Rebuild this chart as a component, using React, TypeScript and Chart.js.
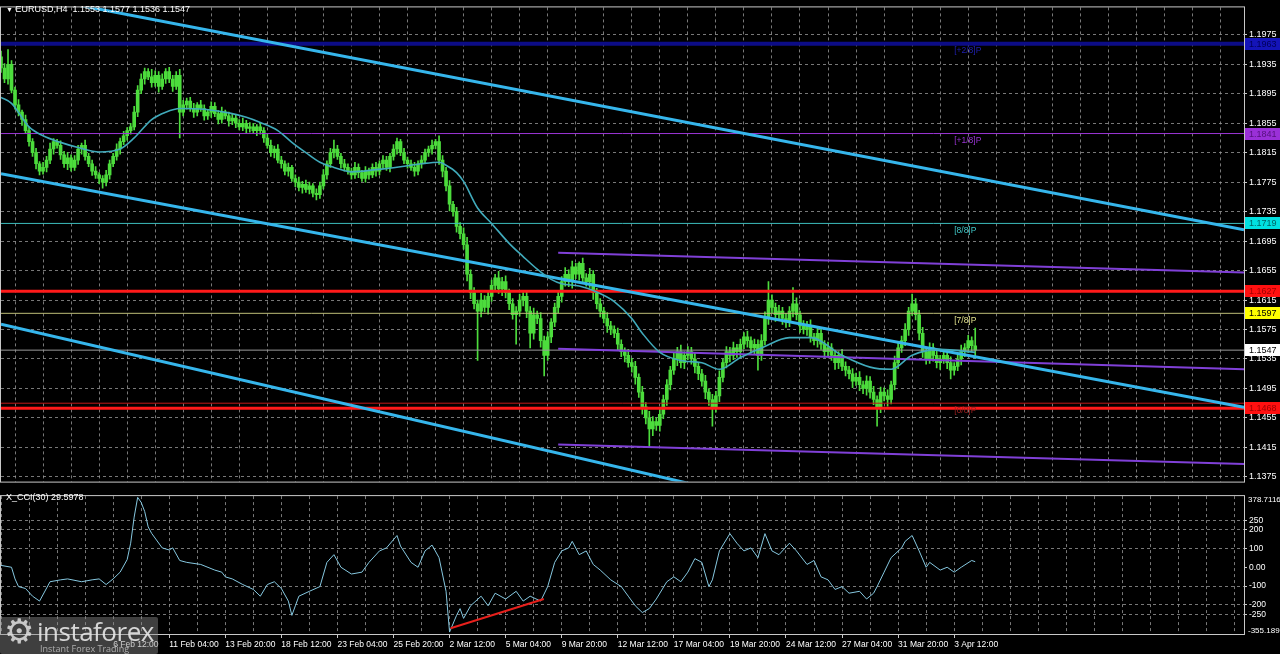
import { useEffect, useRef } from 'react';
import { Chart, registerables } from 'chart.js';
Chart.register(...registerables);

// ---------- DATA ----------
// prices stored as pips above 1.1000 (e.g. 930 -> 1.1930)
const BASE = 1.1;
const firstOpenPips = 945;
const closePips = [
  930, 915, 935, 900, 880, 870, 860, 845, 830, 815,
  800, 790, 795, 805, 820, 830, 825, 812, 800, 808,
  795, 805, 820, 825, 810, 800, 790, 785, 780, 775,
  785, 800, 810, 820, 830, 838, 845, 850, 870, 900,
  915, 925, 918, 910, 920, 905, 915, 925, 915, 905,
  920, 870, 880, 885, 875, 870, 880, 875, 865, 870,
  878, 868, 860, 870, 865, 858, 862, 855, 850, 855,
  848, 850, 845, 850, 845, 835, 825, 815, 820, 805,
  800, 790, 795, 780, 775, 768, 772, 765, 770, 760,
  758, 770, 785, 800, 815, 820, 810, 800, 795, 790,
  785, 795, 788, 780, 790, 785, 795, 790, 800, 805,
  795, 810, 820, 830, 815, 805, 800, 795, 790, 800,
  805, 815, 820, 825, 830, 805, 790, 770, 745, 735,
  715, 705, 690, 650, 625, 610, 600, 615, 605, 620,
  635, 645, 630, 640, 625, 610, 595, 600, 615, 620,
  600, 570, 595, 590, 560, 540, 565, 585, 605, 620,
  640, 650, 640, 660, 650, 665, 645, 640, 650, 625,
  610, 600, 590, 580, 575, 570, 555, 545, 540, 530,
  525, 510, 490, 470, 455, 440, 450, 445, 460, 480,
  500, 520, 535, 545, 530, 540, 545, 535, 525, 515,
  505, 490, 480, 470, 485, 510, 530, 545, 540, 550,
  545, 555, 565, 560, 550, 555, 540, 560, 590, 615,
  605, 595, 600, 590, 585, 600, 610, 595, 580, 575,
  580, 565, 560, 570, 555, 545, 550, 540, 530, 540,
  525, 520, 515, 505, 510, 500, 495, 505, 490, 480,
  470, 490, 485, 480, 500, 530, 550, 560, 575, 600,
  610, 595, 570, 545, 535, 550, 540, 530, 535, 540,
  530, 520, 525, 535, 545, 550, 560, 553, 547,
];
// upper / lower wick length in pips
const upWick = [
  8, 6, 20, 5, 4, 7, 3, 6, 5, 4,
  6, 3, 7, 5, 8, 4, 3, 6, 5, 7,
  4, 6, 5, 3, 7, 4, 5, 6, 3, 4,
  6, 5, 4, 7, 5, 6, 4, 5, 8, 6,
  7, 5, 4, 10, 6, 5, 7, 4, 6, 5,
  5, 8, 6, 4, 5, 7, 3, 6, 5, 4,
  6, 5, 4, 7, 3, 5, 6, 4, 5, 7,
  4, 6, 5, 3, 6, 4, 5, 7, 4, 6,
  5, 4, 6, 3, 5, 7, 4, 6, 5, 3,
  6, 5, 7, 4, 6, 12, 5, 4, 6, 5,
  4, 7, 5, 3, 6, 4, 5, 7, 4, 6,
  5, 4, 6, 5, 3, 6, 4, 5, 7, 4,
  6, 5, 4, 7, 3, 8, 6, 5, 7, 4,
  6, 5, 8, 10, 6, 7, 5, 9, 6, 8,
  7, 5, 9, 6, 8, 5, 7, 6, 8, 5,
  7, 6, 9, 5, 8, 6, 7, 5, 6, 8,
  7, 9, 6, 8, 5, 2, 7, 6, 8, 5,
  6, 7, 5, 8, 6, 5, 7, 6, 5, 8,
  6, 7, 5, 8, 6, 9, 7, 5, 8, 6,
  7, 5, 8, 6, 9, 5, 7, 6, 8, 5,
  6, 8, 5, 7, 6, 9, 5, 7, 6, 8,
  5, 7, 6, 8, 5, 7, 6, 8, 9, 25,
  7, 6, 8, 5, 7, 6, 22, 8, 5, 7,
  6, 8, 5, 7, 6, 5, 8, 6, 7, 5,
  8, 6, 5, 7, 6, 8, 5, 7, 6, 8,
  5, 7, 6, 8, 5, 9, 7, 6, 8, 5,
  13, 7, 6, 8, 5, 7, 6, 8, 5, 7,
  6, 8, 5, 7, 9, 6, 7, 5, 24,
];
const dnWick = [
  6, 5, 7, 4, 6, 5, 8, 4, 6, 5,
  7, 5, 4, 6, 5, 7, 4, 6, 5, 8,
  5, 4, 6, 7, 5, 4, 6, 5, 7, 8,
  5, 6, 4, 5, 7, 4, 6, 5, 4, 6,
  5, 7, 4, 6, 5, 8, 4, 6, 5, 7,
  4, 35, 5, 6, 4, 7, 5, 4, 6, 5,
  7, 4, 6, 5, 4, 7, 5, 6, 4, 5,
  6, 5, 4, 7, 5, 6, 4, 5, 7, 4,
  6, 5, 7, 4, 6, 5, 8, 4, 6, 5,
  7, 5, 4, 6, 5, 7, 4, 6, 5, 4,
  6, 5, 7, 4, 5, 6, 4, 7, 5, 6,
  4, 6, 5, 7, 4, 5, 6, 4, 7, 5,
  6, 4, 5, 7, 5, 6, 8, 7, 9, 6,
  8, 7, 6, 9, 8, 7, 67, 8, 6, 9,
  7, 8, 6, 9, 7, 8, 6, 40, 7, 8,
  9, 20, 8, 7, 9, 28, 7, 8, 6, 7,
  8, 6, 7, 9, 6, 8, 7, 6, 8, 9,
  7, 8, 6, 9, 7, 6, 8, 7, 9, 6,
  8, 9, 7, 10, 8, 25, 9, 7, 8, 6,
  8, 7, 6, 9, 7, 8, 6, 7, 9, 8,
  7, 9, 8, 26, 7, 8, 6, 7, 9, 6,
  8, 7, 6, 9, 7, 8, 20, 7, 6, 8,
  7, 9, 6, 8, 7, 6, 8, 7, 9, 6,
  8, 7, 6, 9, 7, 8, 6, 7, 9, 8,
  6, 8, 7, 9, 6, 8, 7, 9, 8, 7,
  26, 8, 7, 9, 6, 7, 8, 6, 7, 8,
  6, 7, 9, 8, 7, 6, 8, 7, 9, 6,
  8, 12, 7, 6, 8, 7, 6, 8, 11,
];
// moving average (bar index, pips)
const maIdx = [0, 3, 8, 12, 17, 22, 28, 34, 38, 43, 47, 51, 58, 65, 70, 74, 79, 83, 87, 91, 95, 100, 107, 114, 120, 125, 127, 130, 132, 136, 140, 145, 149, 153, 157, 160, 165, 170, 175, 180, 183, 188, 194, 200, 205, 211, 217, 225, 231, 240, 248, 254, 260, 268, 278];
const maPips = [890, 882, 850, 838, 829, 822, 816, 820, 835, 860, 870, 875, 874, 869, 863, 856, 845, 829, 815, 802, 795, 789, 792, 796, 800, 802, 798, 788, 776, 740, 719, 692, 674, 657, 643, 637, 634, 626, 613, 590, 570, 544, 533, 530, 521, 537, 550, 564, 564, 540, 524, 521, 540, 548, 544];
// CCI(30) (bar index, value)
const cciIdx = [0, 3, 4, 5, 7, 9, 11, 14, 17, 19, 23, 26, 28, 30, 32, 34, 36, 37, 38, 39, 40, 41, 42, 43, 46, 48, 49, 51, 53, 57, 61, 63, 64, 66, 69, 72, 74, 76, 78, 80, 82, 83, 84, 85, 88, 91, 93, 95, 97, 100, 103, 105, 108, 110, 113, 114, 117, 119, 121, 123, 125, 127, 128, 130, 131, 132, 134, 137, 139, 141, 144, 147, 149, 151, 154, 156, 158, 160, 162, 163, 165, 167, 169, 171, 174, 177, 179, 181, 183, 185, 187, 190, 192, 194, 196, 198, 200, 202, 203, 205, 208, 210, 212, 214, 216, 218, 220, 222, 225, 227, 230, 232, 234, 236, 238, 240, 242, 245, 247, 249, 250, 252, 254, 257, 258, 260, 262, 264, 265, 268, 270, 272, 274, 277, 278];
const cciVal = [10, 0, -62, -103, -113, -154, -180, -77, -67, -62, -77, -67, -62, -92, -62, -26, 41, 128, 267, 372, 345, 297, 215, 180, 103, 92, 103, 36, 26, 15, -15, -26, -51, -62, -92, -118, -154, -92, -77, -113, -180, -256, -205, -154, -128, -103, 26, 67, 0, -36, -26, 26, 87, 103, 169, 113, 26, 0, 87, 118, 51, -128, -345, -256, -220, -272, -205, -154, -205, -138, -169, -128, -180, -154, -180, -103, 26, 87, 103, 138, 67, 87, 15, -15, -67, -103, -154, -205, -241, -220, -169, -77, -51, -77, -26, 46, 26, -103, -67, 87, 179, 128, 87, 103, 51, 179, 87, 67, 128, 87, 15, 36, -51, -67, -118, -103, -138, -128, -169, -138, -103, -26, 51, 103, 138, 169, 87, 0, 26, -15, 0, -26, 0, 36, 29.5978];
const cciTrend = [[128.3, -325], [154.9, -169]];

const priceTicks = [1.1975, 1.1935, 1.1895, 1.1855, 1.1815, 1.1775, 1.1735, 1.1695, 1.1655, 1.1615, 1.1575, 1.1535, 1.1495, 1.1455, 1.1415, 1.1375];
const cciTicks = [250, 200, 100, 0, -100, -200, -250];
const cciMax = 378.7116;
const cciMin = -355.189;
const timeTickIdx = [32, 48, 64, 80, 96, 112, 128, 144, 160, 176, 192, 208, 224, 240, 256, 272];
const timeTickLabels = ['6 Feb 12:00', '11 Feb 04:00', '13 Feb 20:00', '18 Feb 12:00', '23 Feb 04:00', '25 Feb 20:00', '2 Mar 12:00', '5 Mar 04:00', '9 Mar 20:00', '12 Mar 12:00', '17 Mar 04:00', '19 Mar 20:00', '24 Mar 12:00', '27 Mar 04:00', '31 Mar 20:00', '3 Apr 12:00'];

const hLevels = [1.1963, 1.1841, 1.1719, 1.1627, 1.1597, 1.1547, 1.1475, 1.1468];
const boxLevels = [1.1963, 1.1841, 1.1719, 1.1627, 1.1597, 1.1547, 1.1468];
const boxLabels = ['1.1963', '1.1841', '1.1719', '1.1627', '1.1597', '1.1547', '1.1468'];
const murrayValues = [1.1963, 1.1841, 1.1719, 1.1597, 1.1475];
const murrayNames = ['[+2/8]P', '[+1/8]P', '[8/8]P', '[7/8]P', '[6/8]P'];
const murrayLabelIdx = 272;

const upperChannel = [[0, 1.20355], [354.7, 1.17105]];
const middleChannel = [[0, 1.17863], [354.7, 1.14695]];
const lowerChannel = [[0, 1.15822], [230, 1.1329]];
const purpleTop = [[159, 1.16791], [354.7, 1.16525]];
const purpleMid = [[159, 1.1549], [354.7, 1.15212]];
const purpleBot = [[159, 1.1419], [354.7, 1.13925]];

// ---------- STYLE ----------
const X_MIN = 0;
const X_MAX = 354.7;
const Y_MIN = 1.13686;
const Y_MAX = 1.20122;
const GRID = 'rgba(150,150,150,0.8)';
const FONT = '"Liberation Sans", Arial, sans-serif';
const CANDLE = '#4cdc3c';
const hLevelColors = ['#0c0c86', '#9b35d6', '#3cbcbc', '#ff1a1a', '#bdbd78', '#9a9a9a', '#c01818', '#ff1a1a'];
const hLevelWidths = [4, 1, 1, 3, 1, 1, 1, 3];
const boxColors = ['#1414b8', '#9a30d8', '#00e0e0', '#ff1010', '#ffff00', '#ffffff', '#ff1010'];
const boxTextColors = ['#00005a', '#55107e', '#006464', '#a00000', '#000000', '#000000', '#a00000'];
const murrayColors = ['#2020b0', '#9b35d6', '#40c8c8', '#e0e08c', '#9a2020'];

const toP = (p: number) => BASE + p / 10000;
const gridIdx: number[] = [];
for (let g = 0; g <= X_MAX; g += 8) gridIdx.push(g);

const framePlugin = {
  id: 'frame',
  afterDraw(chart: any) {
    const { ctx, chartArea: a } = chart;
    ctx.save();
    ctx.strokeStyle = '#c8c8c8';
    ctx.lineWidth = 1;
    ctx.strokeRect(a.left - 0.5, a.top - 0.5, a.right - a.left + 1, a.bottom - a.top + 1);
    ctx.restore();
  },
};

const mainLabels = {
  id: 'mainLabels',
  afterDraw(chart: any) {
    const { ctx } = chart;
    const ys = chart.scales.y;
    const xs = chart.scales.x;
    const right = chart.chartArea.right;
    ctx.save();
    ctx.font = '9px ' + FONT;
    ctx.textBaseline = 'middle';
    ctx.textAlign = 'left';
    boxLevels.forEach((v, k) => {
      const py = Math.round(ys.getPixelForValue(v));
      ctx.fillStyle = boxColors[k];
      ctx.fillRect(right + 1, py - 6, 1280 - right - 1, 12);
      ctx.fillStyle = boxTextColors[k];
      ctx.fillText(boxLabels[k], right + 5, py + 0.5);
    });
    ctx.font = '8.5px ' + FONT;
    murrayValues.forEach((v, k) => {
      ctx.fillStyle = murrayColors[k];
      ctx.fillText(murrayNames[k], xs.getPixelForValue(murrayLabelIdx), ys.getPixelForValue(v) + 7);
    });
    ctx.restore();
  },
};

const cciLabels = {
  id: 'cciLabels',
  afterDraw(chart: any) {
    const { ctx } = chart;
    const a = chart.chartArea;
    ctx.save();
    ctx.font = '8px ' + FONT;
    ctx.textBaseline = 'middle';
    ctx.textAlign = 'left';
    ctx.fillStyle = '#ffffff';
    ctx.fillText(cciMax.toFixed(4), a.right + 4, a.top + 4);
    ctx.fillText(cciMin.toFixed(3), a.right + 4, a.bottom - 3);
    ctx.restore();
  },
};

function lineDs(pts: number[][], color: string, width: number, order: number, extra: any = {}) {
  return {
    type: 'line',
    data: pts.map(([x, y]) => ({ x, y })),
    borderColor: color,
    borderWidth: width,
    pointRadius: 0,
    fill: false,
    order,
    xAxisID: 'x',
    yAxisID: 'y',
    ...extra,
  };
}

function mainConfig(): any {
  const opens = closePips.map((c, i) => (i === 0 ? firstOpenPips : closePips[i - 1]));
  const wickData = closePips.map((c, i) => {
    const o = opens[i];
    return { x: i, y: [toP(Math.min(o, c) - dnWick[i]), toP(Math.max(o, c) + upWick[i])] };
  });
  const bodyData = closePips.map((c, i) => ({ x: i, y: [toP(opens[i]), toP(c)] }));
  const datasets: any[] = [
    { type: 'bar', data: wickData, backgroundColor: CANDLE, barThickness: 1, grouped: false, borderWidth: 0, order: 40, xAxisID: 'x', yAxisID: 'y' },
    { type: 'bar', data: bodyData, backgroundColor: CANDLE, barThickness: 3, grouped: false, borderWidth: 0, minBarLength: 1, order: 39, xAxisID: 'x', yAxisID: 'y' },
  ];
  hLevels.forEach((v, k) => {
    datasets.push(lineDs([[X_MIN, v], [X_MAX, v]], hLevelColors[k], hLevelWidths[k], 20 + k));
  });
  datasets.push(lineDs(purpleTop, '#8040d8', 2, 15));
  datasets.push(lineDs(purpleMid, '#8040d8', 2, 15));
  datasets.push(lineDs(purpleBot, '#8040d8', 2, 15));
  datasets.push(lineDs(upperChannel, '#36b6ec', 3, 10));
  datasets.push(lineDs(middleChannel, '#36b6ec', 3, 10));
  datasets.push(lineDs(lowerChannel, '#36b6ec', 3, 10));
  datasets.push(
    lineDs(
      maIdx.map((x, k) => [x, toP(maPips[k])]),
      '#40aabb',
      1.6,
      1,
      { cubicInterpolationMode: 'monotone' }
    )
  );
  return {
    type: 'bar',
    data: { datasets },
    plugins: [mainLabels, framePlugin],
    options: {
      responsive: false,
      animation: false,
      events: [],
      layout: { padding: { left: 1, top: 2, right: 0, bottom: 2 } },
      plugins: { legend: { display: false }, tooltip: { enabled: false } },
      scales: {
        x: {
          type: 'linear',
          min: X_MIN,
          max: X_MAX,
          offset: false,
          afterBuildTicks: (s: any) => {
            s.ticks = gridIdx.map((v) => ({ value: v }));
          },
          afterFit: (s: any) => {
            s.height = 0;
          },
          ticks: { display: false },
          grid: { color: GRID, drawTicks: false, lineWidth: 1 },
          border: { display: false, dash: [3, 3] },
        },
        y: {
          type: 'linear',
          position: 'right',
          min: Y_MIN,
          max: Y_MAX,
          afterBuildTicks: (s: any) => {
            s.ticks = priceTicks.map((v) => ({ value: v }));
          },
          afterFit: (s: any) => {
            s.width = 36;
          },
          ticks: {
            color: '#ffffff',
            font: { family: FONT, size: 9 },
            padding: 2,
            callback: (v: any) => Number(v).toFixed(4),
          },
          grid: { color: GRID, tickLength: 3, tickColor: '#c8c8c8', tickBorderDash: [] },
          border: { display: false, dash: [3, 3] },
        },
      },
    },
  };
}

function cciConfig(): any {
  const datasets: any[] = [
    lineDs(cciTrend, '#e8201c', 2, 1),
    lineDs(cciIdx.map((x, k) => [x, cciVal[k]]), '#86c8e0', 1, 2),
  ];
  return {
    type: 'line',
    data: { datasets },
    plugins: [cciLabels, framePlugin],
    options: {
      responsive: false,
      animation: false,
      events: [],
      layout: { padding: { left: 1, top: 2, right: 0, bottom: 0 } },
      plugins: { legend: { display: false }, tooltip: { enabled: false } },
      scales: {
        x: {
          type: 'linear',
          min: X_MIN,
          max: X_MAX,
          offset: false,
          afterBuildTicks: (s: any) => {
            s.ticks = gridIdx.map((v) => ({ value: v }));
          },
          afterFit: (s: any) => {
            s.height = 0;
          },
          ticks: { display: false },
          grid: { color: GRID, drawTicks: false },
          border: { display: false, dash: [3, 3] },
        },
        xl: {
          type: 'linear',
          position: 'bottom',
          min: X_MIN,
          max: X_MAX,
          offset: false,
          afterBuildTicks: (s: any) => {
            s.ticks = timeTickIdx.map((v) => ({ value: v }));
          },
          afterFit: (s: any) => {
            s.height = 20;
          },
          ticks: {
            color: '#ffffff',
            font: { family: FONT, size: 8.5 },
            padding: 2,
            align: 'start',
            autoSkip: false,
            maxRotation: 0,
            minRotation: 0,
            callback: (_v: any, i: number) => timeTickLabels[i],
          },
          grid: { drawOnChartArea: false, drawTicks: true, tickLength: 4, tickColor: '#c8c8c8', color: '#c8c8c8' },
          border: { display: false },
        },
        y: {
          type: 'linear',
          position: 'right',
          min: cciMin,
          max: cciMax,
          afterBuildTicks: (s: any) => {
            s.ticks = cciTicks.map((v) => ({ value: v }));
          },
          afterFit: (s: any) => {
            s.width = 36;
          },
          ticks: {
            color: '#ffffff',
            font: { family: FONT, size: 8.5 },
            padding: 2,
            callback: (v: any) => (Number(v) === 0 ? '0.00' : String(v)),
          },
          grid: {
            color: (c: any) => (c.tick && c.tick.value === 0 ? 'rgba(0,0,0,0)' : GRID),
            tickLength: 3,
            tickColor: '#c8c8c8',
          },
          border: { display: false, dash: [3, 3] },
        },
      },
    },
  };
}

export default function App() {
  const mainRef = useRef<HTMLCanvasElement>(null);
  const cciRef = useRef<HTMLCanvasElement>(null);
  useEffect(() => {
    const main = new Chart(mainRef.current as HTMLCanvasElement, mainConfig());
    const cci = new Chart(cciRef.current as HTMLCanvasElement, cciConfig());
    return () => {
      main.destroy();
      cci.destroy();
    };
  }, []);
  return (
    <div style={{ position: 'fixed', left: 0, top: 0, width: 1280, height: 654, background: '#000', overflow: 'hidden', fontFamily: FONT }}>
      <canvas ref={mainRef} width={1280} height={489} style={{ position: 'absolute', left: 0, top: 0, width: 1280, height: 489 }} />
      <canvas ref={cciRef} width={1280} height={165} style={{ position: 'absolute', left: 0, top: 489, width: 1280, height: 165 }} />
      <div style={{ position: 'absolute', left: 6, top: 3, color: '#fff', fontSize: 9, whiteSpace: 'pre', lineHeight: '12px' }}>
        <span style={{ fontSize: 7 }}>▼</span> EURUSD,H4  1.1553 1.1577 1.1536 1.1547
      </div>
      <div style={{ position: 'absolute', left: 6, top: 491, color: '#fff', fontSize: 9, whiteSpace: 'pre', lineHeight: '12px' }}>
        X_CCI(30) 29.5978
      </div>
      <div style={{ position: 'absolute', left: 0, top: 617, width: 158, height: 37, background: 'rgba(140,140,140,0.45)', borderRadius: 2 }}>
        <div style={{ position: 'absolute', left: 4, top: -6, fontSize: 34, color: 'rgba(225,225,225,0.85)', fontFamily: '"DejaVu Sans", sans-serif' }}>⚙</div>
        <div style={{ position: 'absolute', left: 37, top: -4, fontSize: 26, color: 'rgba(235,235,235,0.88)', fontFamily: '"Open Sans", sans-serif', letterSpacing: -0.5 }}>instaforex</div>
        <div style={{ position: 'absolute', left: 40, top: 25, fontSize: 9, color: 'rgba(200,200,200,0.8)', fontFamily: '"Open Sans", sans-serif' }}>Instant Forex Trading</div>
      </div>
    </div>
  );
}
